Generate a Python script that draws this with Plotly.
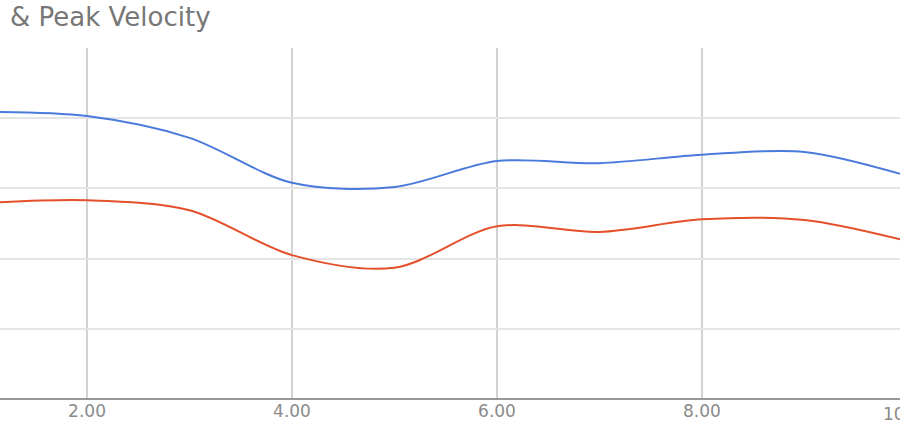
import plotly.graph_objects as go

# session number vs velocity (y in gridline units)
sessions = [1, 2, 3, 4, 5, 6, 7, 8, 9, 10]
peak_velocity = [4.09, 4.03, 3.72, 3.08, 3.02, 3.39, 3.36, 3.48, 3.52, 3.18]
avg_velocity = [2.79, 2.83, 2.69, 2.05, 1.87, 2.46, 2.38, 2.56, 2.55, 2.25]

x_ticks = [2, 4, 6, 8]
title_text = "& Peak Velocity"
cut_tick_label = "10.00"

GREY_TXT = "#8a8a8a"


def create_traces():
    peak = go.Scatter(
        x=sessions, y=peak_velocity,
        mode="lines",
        line=dict(color="#4a7bdc", width=2, shape="spline", smoothing=0.9),
        name="Peak Velocity",
        hoverinfo="x+y",
    )
    avg = go.Scatter(
        x=sessions, y=avg_velocity,
        mode="lines",
        line=dict(color="#e5502b", width=2, shape="spline", smoothing=0.9),
        name="Average Velocity",
        hoverinfo="x+y",
    )
    return [peak, avg]


def create_layout():
    layout = go.Layout(
        width=900,
        height=444,
        showlegend=False,
        paper_bgcolor="white",
        plot_bgcolor="white",
        margin=dict(l=0, r=0, t=48, b=45),
        font=dict(family="DejaVu Sans", color=GREY_TXT),
        xaxis=dict(
            range=[1.151, 9.932],
            tickvals=x_ticks,
            tickformat=".2f",
            tickfont=dict(size=17, color=GREY_TXT),
            showgrid=True,
            gridcolor="#d2d2d2",
            gridwidth=1.5,
            zeroline=False,
            showline=False,
            ticks="",
        ),
        yaxis=dict(
            range=[0, 5],
            dtick=1,
            showticklabels=False,
            showgrid=True,
            gridcolor="#e4e4e4",
            gridwidth=1.5,
            zeroline=True,
            zerolinecolor="#9a9a9a",
            zerolinewidth=2,
            ticks="",
        ),
        annotations=[
            dict(
                text=title_text,
                xref="paper", yref="paper",
                x=0.009, y=1 + 48 / 351,
                xanchor="left", yanchor="top",
                showarrow=False,
                font=dict(family="DejaVu Sans", size=26, color="#777777"),
            ),
            # tick label of 10 sits just past the right edge, cut off
            dict(
                text=cut_tick_label,
                xref="paper", yref="paper",
                x=907 / 900, y=-15 / 351,
                xanchor="center", yanchor="middle",
                showarrow=False,
                font=dict(family="DejaVu Sans", size=17, color=GREY_TXT),
            ),
        ],
    )
    return layout


def main():
    fig = go.Figure(data=create_traces(), layout=create_layout())
    # page body margin would shift the chart by 8px
    fig.write_html(
        "out.html",
        config={"displayModeBar": False},
        post_script="document.body.style.margin='0';document.body.style.overflow='hidden';",
    )


if __name__ == "__main__":
    main()
